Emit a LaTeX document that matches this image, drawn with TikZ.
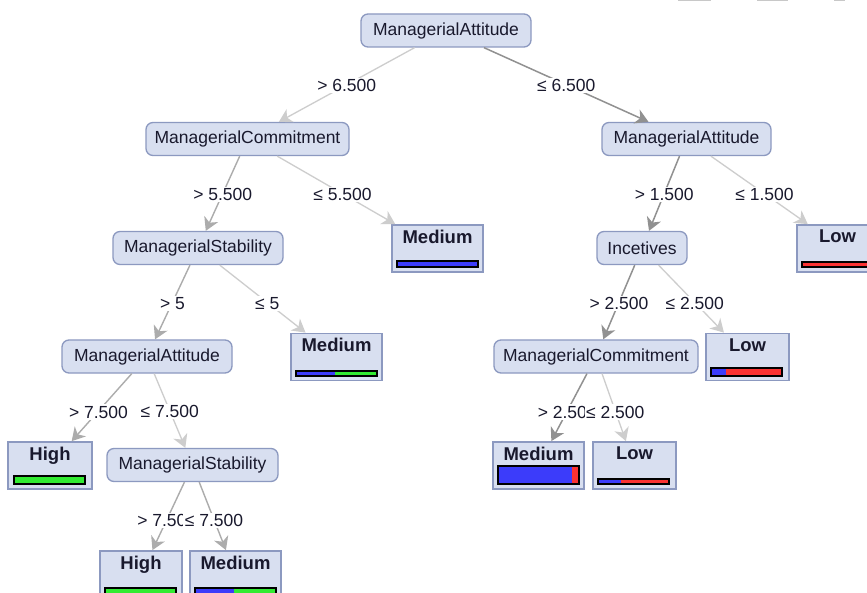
\documentclass[tikz,border=0pt]{standalone}
\usepackage{fontspec}
\setmainfont{Liberation Sans}
\usetikzlibrary{arrows.meta,calc}
\definecolor{nodefill}{RGB}{216,223,240}
\definecolor{nodeline}{RGB}{140,153,192}
\definecolor{txt}{RGB}{25,25,45}
\definecolor{edgeD}{RGB}{145,145,145}
\definecolor{edgeM}{RGB}{172,172,172}
\definecolor{edgeL}{RGB}{205,205,205}
\definecolor{barblue}{RGB}{60,60,250}
\definecolor{bargreen}{RGB}{50,235,50}
\definecolor{barred}{RGB}{250,50,50}
\definecolor{topgray}{RGB}{200,200,200}
\newcommand\drawbar[7]{%
  \fill[#6] (#1,#2) rectangle (#5,#4);
  \fill[#7] (#5,#2) rectangle (#3,#4);
  \draw[barframe] (#1,#2) rectangle (#3,#4);}
\begin{document}
\begin{tikzpicture}[x=1pt,y=-1pt,
  inner/.style={draw=nodeline, fill=nodefill, line width=1.3pt, rounded corners=7pt,
    minimum height=33pt, inner sep=0pt, text=txt, font=\fontsize{17.5}{20}\selectfont},
  leaf/.style={draw=nodeline, fill=nodefill, line width=1.8pt, minimum height=47pt, inner sep=0pt},
  leaftext/.style={anchor=north, inner sep=0pt, text=txt, font=\fontsize{18.5}{21}\selectfont\bfseries},
  tip/.style={-{Stealth[length=13pt,width=15pt,inset=4pt]}},
  darkedge/.style={draw=edgeD, line width=1.5pt, tip},
  midedge/.style={draw=edgeM, line width=1.4pt, tip},
  lightedge/.style={draw=edgeL, line width=1.3pt, tip},
  elabel/.style={fill=white, inner sep=1.5pt, text=txt, yshift=-1pt, font=\fontsize{17.5}{20}\selectfont},
  barframe/.style={draw=black, line width=1.3pt}
]
\clip (0,0) rectangle (867,593);
\fill[white] (0,0) rectangle (867,593);
% top-right marks
\fill[topgray] (678,0) rectangle (711,1.5);
\fill[topgray] (757,0) rectangle (788,1.5);
\fill[topgray] (834,0) rectangle (845,1.5);

% inner nodes
\node[inner, minimum width=170pt] (root) at (446,30.5) {ManagerialAttitude};
\node[inner, minimum width=203pt] (mc1) at (247.5,139) {ManagerialCommitment};
\node[inner, minimum width=169pt] (ma2) at (686.5,139) {ManagerialAttitude};
\node[inner, minimum width=170pt] (ms1) at (198,248) {ManagerialStability};
\node[inner, minimum width=90pt] (inc) at (642,248) {Incetives};
\node[inner, minimum width=170pt] (ma3) at (147,356.5) {ManagerialAttitude};
\node[inner, minimum width=204pt] (mc2) at (596,356.5) {ManagerialCommitment};
\node[inner, minimum width=171pt] (ms2) at (192.5,465) {ManagerialStability};

% leaves
\node[leaf, minimum width=91pt] (med1) at (437.5,248.5) {};
\node[leaf, minimum width=91pt] (low1) at (842.5,248.5) {};
\node[leaf, minimum width=91pt] (med2) at (336.5,357) {};
\node[leaf, minimum width=84pt] (high1) at (50,465.5) {};
\node[leaf, minimum width=83pt] (low2) at (747.5,357) {};
\node[leaf, minimum width=91pt] (med3) at (538.5,465.5) {};
\node[leaf, minimum width=83pt] (low3) at (634.5,465.5) {};
\node[leaf, minimum width=82pt] (high2) at (141,574.5) {};
\node[leaf, minimum width=91pt] (med4) at (235.5,574.5) {};

\node[leaftext] (med1t) at ($(med1.north)+(0,5.5)$) {Medium};
\node[leaftext] (low1t) at ($(low1.north)+(-5,5.5)$) {Low};
\node[leaftext] (med2t) at ($(med2.north)+(0,5.5)$) {Medium};
\node[leaftext] (high1t) at ($(high1.north)+(0,5.5)$) {High};
\node[leaftext] (low2t) at ($(low2.north)+(0,5.5)$) {Low};
\node[leaftext] (med3t) at ($(med3.north)+(0,5.5)$) {Medium};
\node[leaftext] (low3t) at ($(low3.north)+(0,5.5)$) {Low};
\node[leaftext] (high2t) at ($(high2.north)+(0,5.5)$) {High};
\node[leaftext] (med4t) at ($(med4.north)+(0,5.5)$) {Medium};

% bars
\drawbar{397}{261}{478}{267}{478}{barblue}{barblue}
\drawbar{802}{262}{883}{267}{883}{barred}{barred}
\drawbar{296}{371}{377}{376}{335}{barblue}{bargreen}
\drawbar{14}{476}{85}{484}{85}{bargreen}{bargreen}
\drawbar{711}{368}{782}{376}{726}{barblue}{barred}
\drawbar{498}{466}{579}{484}{572}{barblue}{barred}
\drawbar{598}{479}{669}{484}{621}{barblue}{barred}
\drawbar{105}{588}{176}{596}{176}{bargreen}{bargreen}
\drawbar{195}{588}{276}{596}{234}{barblue}{bargreen}

% edges
\draw[lightedge] (root) -- (mc1);
\draw[darkedge] (root) -- (ma2);
\draw[midedge] (mc1) -- (ms1);
\draw[lightedge] (mc1) -- (med1);
\draw[midedge] (ms1) -- (ma3);
\draw[lightedge] (ms1) -- (med2);
\draw[midedge] (ma3) -- (high1);
\draw[lightedge] (ma3) -- (ms2);
\draw[midedge] (ms2) -- (high2);
\draw[midedge] (ms2) -- (med4);
\draw[darkedge] (ma2) -- (inc);
\draw[lightedge] (ma2) -- (low1);
\draw[darkedge] (inc) -- (mc2);
\draw[lightedge] (inc) -- (low2);
\draw[darkedge] (mc2) -- (med3);
\draw[lightedge] (mc2) -- (low3);

% edge labels
\node[elabel] (e1) at ($(root)!0.5!(mc1)$) {> 6.500};
\node[elabel] (e2) at ($(root)!0.5!(ma2)$) {≤ 6.500};
\node[elabel] (e3) at ($(mc1)!0.5!(ms1)$) {> 5.500};
\node[elabel] (e4) at ($(mc1)!0.5!(med1)$) {≤ 5.500};
\node[elabel] (e5) at ($(ms1)!0.5!(ma3)$) {> 5};
\node[elabel] (e6) at ($(ms1)!0.5!(med2)$) {≤ 5};
\node[elabel] (e7) at ($(ma3)!0.5!(high1)$) {> 7.500};
\node[elabel] (e8) at ($(ma3)!0.5!(ms2)$) {≤ 7.500};
\node[elabel] (e9) at ($(ms2)!0.5!(high2)$) {> 7.500};
\node[elabel] (e10) at ($(ms2)!0.5!(med4)$) {≤ 7.500};
\node[elabel] (e11) at ($(ma2)!0.5!(inc)$) {> 1.500};
\node[elabel] (e12) at ($(ma2)!0.5!(low1)$) {≤ 1.500};
\node[elabel] (e13) at ($(inc)!0.5!(mc2)$) {> 2.500};
\node[elabel] (e14) at ($(inc)!0.5!(low2)$) {≤ 2.500};
\node[elabel] (e15) at ($(mc2)!0.5!(med3)$) {> 2.500};
\node[elabel] (e16) at ($(mc2)!0.5!(low3)$) {≤ 2.500};
\end{tikzpicture}
\end{document}
